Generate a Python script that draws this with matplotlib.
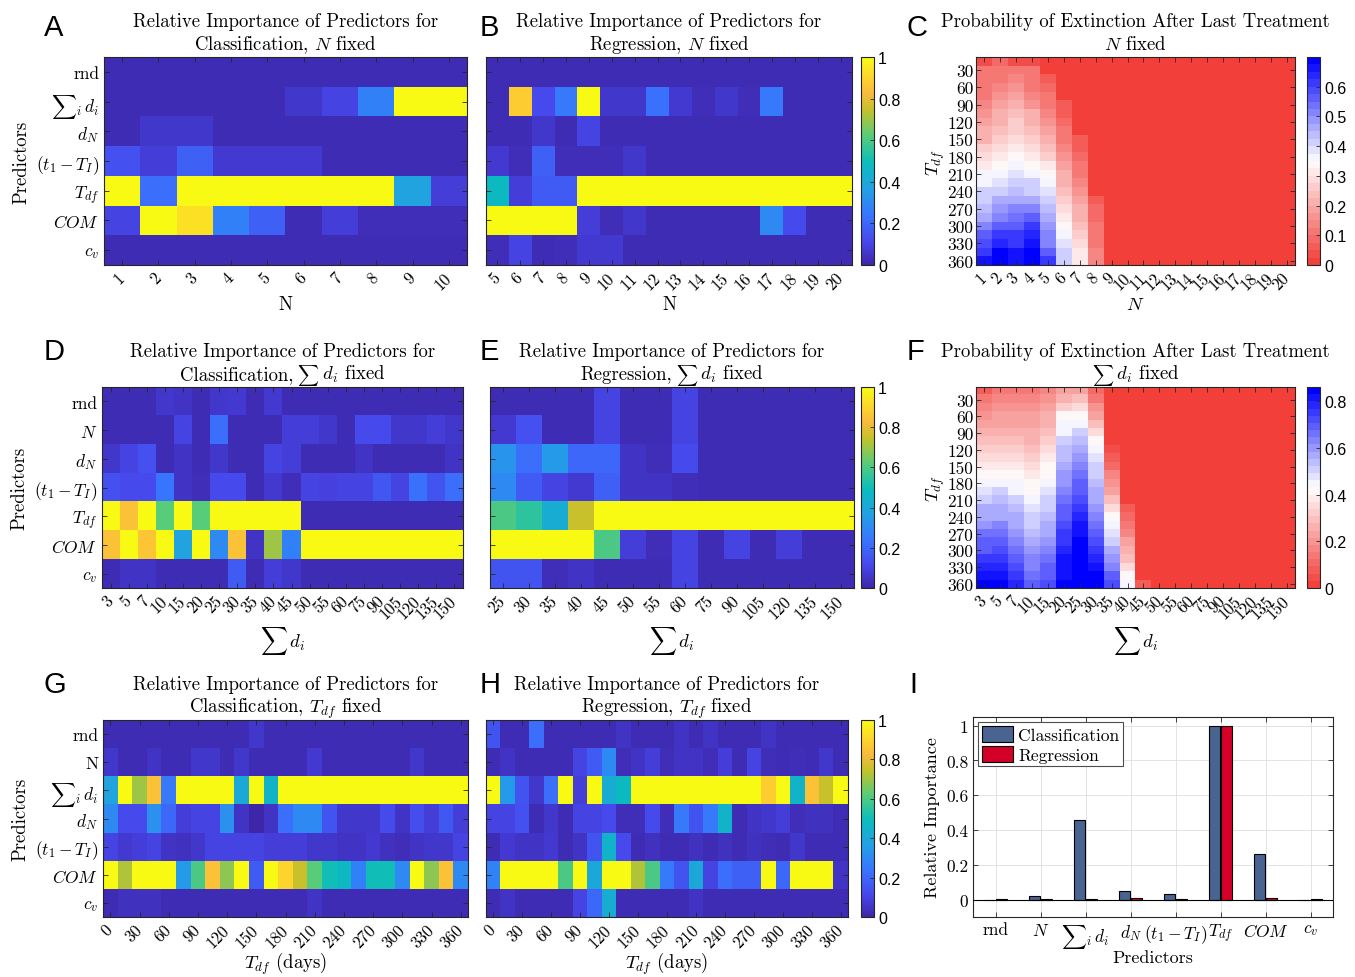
import numpy as np
import matplotlib
matplotlib.use('Agg')
import matplotlib.pyplot as plt
from matplotlib.colors import LinearSegmentedColormap

plt.rcParams['font.family'] = 'serif'
plt.rcParams['font.serif'] = ['cmr10']
plt.rcParams['mathtext.fontset'] = 'cm'
plt.rcParams['axes.formatter.use_mathtext'] = True
plt.rcParams['axes.unicode_minus'] = False

#### Achsenbeschriftungen / Kategorien
pred_N = ['rnd', r'${\sum}_i\, d_i$', r'$d_N$', r'$(t_1-T_I)$', r'$T_{df}$', r'$COM$', r'$c_v$']
pred_sum = ['rnd', r'$N$', r'$d_N$', r'$(t_1-T_I)$', r'$T_{df}$', r'$COM$', r'$c_v$']
pred_T = ['rnd', 'N', r'${\sum}_i\, d_i$', r'$d_N$', r'$(t_1-T_I)$', r'$COM$', r'$c_v$']
pred_bar = ['rnd', r'$N$', r'${\sum}_i\, d_i$', r'$d_N$', r'$(t_1-T_I)$', r'$T_{df}$', r'$COM$', r'$c_v$']

N_class = [1, 2, 3, 4, 5, 6, 7, 8, 9, 10]
N_reg = [5, 6, 7, 8, 9, 10, 11, 12, 13, 14, 15, 16, 17, 18, 19, 20]
N_prob = [1, 2, 3, 4, 5, 6, 7, 8, 9, 10, 11, 12, 13, 14, 15, 16, 17, 18, 19, 20]
sum_class = [3, 5, 7, 10, 15, 20, 25, 30, 35, 40, 45, 50, 55, 60, 75, 90, 105, 120, 135, 150]
sum_reg = [25, 30, 35, 40, 45, 50, 55, 60, 75, 90, 105, 120, 135, 150]
T_days = [0, 15, 30, 45, 60, 75, 90, 105, 120, 135, 150, 165, 180, 195, 210, 225, 240,
          255, 270, 285, 300, 315, 330, 345, 360]
T_prob = [15, 30, 45, 60, 75, 90, 105, 120, 135, 150, 165, 180, 195, 210, 225, 240,
          255, 270, 285, 300, 315, 330, 345, 360]

#### A: Klassifikation, N fest
imp_class_N = [
    [.02, .02, .02, .02, .02, .02, .02, .02, .02, .02],
    [.02, .02, .02, .02, .02, .06, .10, .27, 1, 1],
    [.02, .06, .06, .02, .02, .02, .02, .02, .02, .02],
    [.14, .08, .18, .07, .07, .07, .02, .02, .02, .02],
    [1, .22, 1, 1, 1, 1, 1, 1, .38, .08],
    [.10, 1, .93, .27, .18, .02, .08, .03, .03, .03],
    [.02, .02, .02, .02, .02, .02, .02, .02, .02, .02]]

#### B: Regression, N fest
imp_reg_N = [
    [.02, .02, .02, .02, .02, .02, .02, .02, .02, .02, .02, .02, .02, .02, .02, .02],
    [.02, .88, .12, .25, 1, .06, .06, .23, .07, .03, .06, .03, .25, .02, .02, .02],
    [.02, .02, .06, .02, .10, .02, .02, .02, .02, .02, .02, .02, .02, .02, .02, .02],
    [.07, .03, .18, .03, .03, .03, .06, .02, .02, .02, .02, .02, .02, .02, .02, .02],
    [.48, .08, .17, .17, 1, 1, 1, 1, 1, 1, 1, 1, 1, 1, 1, 1],
    [1, 1, 1, 1, .08, .03, .06, .02, .02, .02, .02, .02, .30, .12, .02, .02],
    [.03, .10, .02, .03, .07, .07, .02, .02, .02, .02, .02, .02, .02, .02, .02, .02]]

#### C: Aussterbewahrscheinlichkeit, N fest (Zeilen T_df = 15..360)
p_ext_N = [
    [.03, .08, .04, .04, .02, .01, 0, 0, 0, 0, 0, 0, 0, 0, 0, 0, 0, 0, 0, 0],
    [.10, .10, .10, .10, .02, .01, 0, 0, 0, 0, 0, 0, 0, 0, 0, 0, 0, 0, 0, 0],
    [.10, .10, .14, .10, .06, .01, 0, 0, 0, 0, 0, 0, 0, 0, 0, 0, 0, 0, 0, 0],
    [.12, .13, .17, .12, .08, .01, 0, 0, 0, 0, 0, 0, 0, 0, 0, 0, 0, 0, 0, 0],
    [.12, .17, .19, .14, .10, .01, 0, 0, 0, 0, 0, 0, 0, 0, 0, 0, 0, 0, 0, 0],
    [.13, .19, .21, .17, .12, .06, 0, 0, 0, 0, 0, 0, 0, 0, 0, 0, 0, 0, 0, 0],
    [.15, .20, .23, .20, .14, .07, 0, 0, 0, 0, 0, 0, 0, 0, 0, 0, 0, 0, 0, 0],
    [.18, .22, .25, .22, .17, .08, 0, 0, 0, 0, 0, 0, 0, 0, 0, 0, 0, 0, 0, 0],
    [.20, .24, .27, .24, .19, .10, 0, 0, 0, 0, 0, 0, 0, 0, 0, 0, 0, 0, 0, 0],
    [.22, .26, .29, .26, .22, .12, .06, 0, 0, 0, 0, 0, 0, 0, 0, 0, 0, 0, 0, 0],
    [.25, .28, .31, .28, .24, .14, .07, 0, 0, 0, 0, 0, 0, 0, 0, 0, 0, 0, 0, 0],
    [.28, .31, .33, .31, .27, .16, .08, 0, 0, 0, 0, 0, 0, 0, 0, 0, 0, 0, 0, 0],
    [.32, .34, .36, .34, .30, .18, .10, 0, 0, 0, 0, 0, 0, 0, 0, 0, 0, 0, 0, 0],
    [.35, .36, .39, .37, .33, .20, .12, 0, 0, 0, 0, 0, 0, 0, 0, 0, 0, 0, 0, 0],
    [.37, .39, .41, .40, .36, .22, .14, 0, 0, 0, 0, 0, 0, 0, 0, 0, 0, 0, 0, 0],
    [.40, .42, .44, .42, .38, .24, .16, 0, 0, 0, 0, 0, 0, 0, 0, 0, 0, 0, 0, 0],
    [.42, .45, .47, .45, .40, .26, .18, .07, 0, 0, 0, 0, 0, 0, 0, 0, 0, 0, 0, 0],
    [.44, .48, .50, .50, .43, .28, .20, .08, 0, 0, 0, 0, 0, 0, 0, 0, 0, 0, 0, 0],
    [.47, .52, .54, .55, .45, .31, .22, .08, 0, 0, 0, 0, 0, 0, 0, 0, 0, 0, 0, 0],
    [.50, .56, .57, .60, .48, .33, .24, .10, 0, 0, 0, 0, 0, 0, 0, 0, 0, 0, 0, 0],
    [.55, .60, .60, .63, .50, .36, .26, .10, 0, 0, 0, 0, 0, 0, 0, 0, 0, 0, 0, 0],
    [.58, .63, .62, .66, .52, .38, .28, .12, 0, 0, 0, 0, 0, 0, 0, 0, 0, 0, 0, 0],
    [.62, .68, .65, .68, .56, .40, .30, .13, 0, 0, 0, 0, 0, 0, 0, 0, 0, 0, 0, 0],
    [.65, .70, .67, .70, .60, .42, .32, .14, 0, 0, 0, 0, 0, 0, 0, 0, 0, 0, 0, 0]]

#### D: Klassifikation, sum d_i fest
imp_class_sum = [
    [.02, .02, .02, .06, .05, .02, .06, .07, .02, .07, .02, .02, .02, .02, .02, .02, .02, .02, .02, .02],
    [.02, .02, .02, .02, .10, .02, .22, .02, .02, .02, .08, .08, .06, .02, .12, .12, .06, .06, .08, .06],
    [.06, .10, .14, .02, .05, .02, .06, .02, .02, .10, .08, .02, .02, .02, .05, .02, .02, .02, .02, .05],
    [.14, .12, .12, .24, .05, .03, .12, .12, .02, .07, .03, .10, .09, .10, .10, .16, .10, .23, .15, .22],
    [1, .85, 1, .62, 1, .62, 1, 1, 1, 1, 1, .02, .02, .02, .02, .02, .02, .02, .02, .02],
    [.85, 1, .86, 1, .38, 1, .30, .85, .05, .70, .27, 1, 1, 1, 1, 1, 1, 1, 1, 1],
    [.02, .05, .05, .02, .02, .02, .02, .17, .02, .08, .06, .02, .02, .02, .02, .02, .02, .02, .02, .02]]

#### E: Regression, sum d_i fest
imp_reg_sum = [
    [.02, .02, .02, .02, .10, .02, .02, .10, .02, .02, .02, .02, .02, .02],
    [.07, .14, .02, .02, .10, .02, .02, .10, .02, .02, .02, .02, .02, .02],
    [.33, .22, .35, .20, .20, .05, .03, .12, .02, .02, .02, .02, .02, .02],
    [.30, .17, .10, .07, .18, .05, .05, .03, .02, .02, .02, .02, .02, .02],
    [.60, .55, .42, .75, 1, 1, 1, 1, 1, 1, 1, 1, 1, 1],
    [1, 1, 1, 1, .60, .08, .03, .10, .02, .10, .02, .08, .02, .02],
    [.15, .15, .03, .05, .02, .02, .02, .10, .02, .02, .02, .02, .02, .02]]

#### F: Aussterbewahrscheinlichkeit, sum d_i fest
p_ext_sum = [
    [.08, .15, .15, .15, .18, .22, .22, .10, 0, 0, 0, 0, 0, 0, 0, 0, 0, 0, 0, 0],
    [.14, .18, .18, .17, .20, .26, .28, .14, 0, 0, 0, 0, 0, 0, 0, 0, 0, 0, 0, 0],
    [.18, .20, .20, .20, .22, .32, .35, .20, 0, 0, 0, 0, 0, 0, 0, 0, 0, 0, 0, 0],
    [.20, .22, .22, .22, .25, .40, .42, .24, 0, 0, 0, 0, 0, 0, 0, 0, 0, 0, 0, 0],
    [.22, .24, .24, .23, .27, .43, .46, .28, 0, 0, 0, 0, 0, 0, 0, 0, 0, 0, 0, 0],
    [.25, .26, .27, .25, .30, .46, .50, .34, 0, 0, 0, 0, 0, 0, 0, 0, 0, 0, 0, 0],
    [.28, .30, .30, .27, .32, .50, .53, .40, 0, 0, 0, 0, 0, 0, 0, 0, 0, 0, 0, 0],
    [.32, .33, .32, .30, .35, .53, .56, .44, .06, 0, 0, 0, 0, 0, 0, 0, 0, 0, 0, 0],
    [.35, .36, .35, .32, .38, .55, .60, .47, .08, 0, 0, 0, 0, 0, 0, 0, 0, 0, 0, 0],
    [.38, .39, .38, .35, .40, .57, .63, .50, .12, 0, 0, 0, 0, 0, 0, 0, 0, 0, 0, 0],
    [.41, .42, .40, .37, .42, .59, .66, .52, .16, 0, 0, 0, 0, 0, 0, 0, 0, 0, 0, 0],
    [.44, .45, .43, .40, .45, .60, .68, .54, .20, 0, 0, 0, 0, 0, 0, 0, 0, 0, 0, 0],
    [.48, .50, .46, .42, .48, .63, .70, .56, .24, 0, 0, 0, 0, 0, 0, 0, 0, 0, 0, 0],
    [.52, .53, .50, .45, .50, .65, .73, .58, .28, 0, 0, 0, 0, 0, 0, 0, 0, 0, 0, 0],
    [.56, .56, .53, .47, .52, .68, .76, .60, .34, .07, 0, 0, 0, 0, 0, 0, 0, 0, 0, 0],
    [.58, .58, .56, .50, .54, .70, .78, .64, .40, .10, 0, 0, 0, 0, 0, 0, 0, 0, 0, 0],
    [.60, .62, .58, .52, .56, .72, .80, .66, .44, .14, 0, 0, 0, 0, 0, 0, 0, 0, 0, 0],
    [.65, .65, .60, .55, .58, .74, .82, .70, .48, .18, 0, 0, 0, 0, 0, 0, 0, 0, 0, 0],
    [.68, .68, .63, .57, .60, .76, .84, .72, .52, .22, 0, 0, 0, 0, 0, 0, 0, 0, 0, 0],
    [.70, .72, .67, .60, .63, .78, .85, .76, .56, .26, 0, 0, 0, 0, 0, 0, 0, 0, 0, 0],
    [.74, .75, .70, .62, .66, .80, .86, .78, .60, .30, 0, 0, 0, 0, 0, 0, 0, 0, 0, 0],
    [.78, .77, .72, .64, .68, .80, .86, .80, .64, .35, 0, 0, 0, 0, 0, 0, 0, 0, 0, 0],
    [.82, .80, .75, .66, .70, .82, .86, .84, .68, .40, 0, 0, 0, 0, 0, 0, 0, 0, 0, 0],
    [.86, .83, .78, .70, .72, .84, .86, .86, .72, .46, .08, 0, 0, 0, 0, 0, 0, 0, 0, 0]]

#### G: Klassifikation, T_df fest
imp_class_T = [
    [.02, .02, .02, .02, .02, .02, .02, .02, .02, .02, .06, .02, .02, .02, .02, .02, .02, .02, .02, .02, .02, .02, .02, .02, .02],
    [.06, .02, .02, .05, .02, .02, .06, .06, .02, .06, .02, .02, .02, .02, .07, .02, .02, .02, .02, .02, .02, .06, .02, .02, .02],
    [.38, 1, .70, .85, .25, 1, 1, 1, 1, .40, 1, .45, 1, 1, 1, 1, 1, 1, 1, 1, 1, 1, 1, 1, 1],
    [.30, .12, .12, .32, .20, .08, .10, .10, .32, .05, 0, .05, .22, .30, .30, .15, .06, .06, .06, .12, .05, .13, .08, .16, .08],
    [.10, .07, .08, .10, .05, .04, .06, .10, .10, .10, .10, .08, .08, .08, .06, .06, .05, .05, .07, .04, .03, .05, .06, .06, .10],
    [1, .72, 1, 1, 1, .35, .60, .85, .68, 1, .17, 1, .90, .75, .62, .50, .48, .27, .50, .50, .30, 1, .68, .85, .30],
    [.02, .04, .04, .04, .02, .02, .02, .02, .02, .02, .02, .02, .02, .02, .05, .02, .02, .02, .02, .02, .02, .02, .02, .02, .02]]

#### H: Regression, T_df fest
imp_reg_T = [
    [.15, .02, .02, .22, .02, .02, .02, .02, .02, .05, .02, .02, .02, .05, .02, .05, .02, .02, .02, .05, .02, .02, .02, .02, .02],
    [.02, .05, .02, .02, .02, .02, .10, .17, .30, .03, .05, .08, .03, .05, .05, .03, .08, .02, .10, .03, .02, .03, .02, .06, .02],
    [1, .35, .15, .06, .22, 1, .08, 1, .42, .48, 1, 1, 1, 1, 1, 1, 1, 1, 1, .88, 1, .45, .85, .75, 1],
    [.10, .10, .14, .02, .06, .02, .10, .10, .12, .03, .03, .12, .03, .25, .15, .25, .45, .02, .05, .06, .08, .03, .04, .04, .02],
    [.02, .07, .05, .05, .07, .02, .05, .15, .45, .12, .02, .04, .02, .02, .04, .02, .04, .02, .04, .03, .02, .06, .02, .02, .02],
    [.28, 1, 1, 1, 1, .60, 1, .40, 1, 1, .72, .60, .25, .15, .40, .10, .22, .18, .18, 1, .20, 1, 1, 1, .05],
    [.02, .05, .02, .02, .02, .02, .10, .20, .42, .02, .02, .02, .02, .02, .05, .02, .02, .02, .02, .02, .02, .02, .02, .02, .02]]

#### I: Gesamtwichtigkeit
imp_class_all = [0.0, 0.02, 0.46, 0.05, 0.03, 1.0, 0.26, 0.0]
imp_reg_all = [0.002, 0.003, 0.003, 0.01, 0.003, 1.0, 0.01, 0.002]

#### Farbskalen
parula = LinearSegmentedColormap.from_list('parula', [
    (0.0, (0.2422, 0.1504, 0.6603)),
    (7/63, (0.2803, 0.2782, 0.9221)),
    (15/63, (0.2206, 0.4603, 0.9973)),
    (23/63, (0.1380, 0.6276, 0.8973)),
    (31/63, (0.0433, 0.7411, 0.7394)),
    (39/63, (0.3406, 0.8008, 0.4789)),
    (47/63, (0.7738, 0.7598, 0.1646)),
    (52/63, (0.9728, 0.7298, 0.2394)),
    (55/63, (0.9952, 0.7893, 0.2028)),
    (1.0, (0.9769, 0.9839, 0.0805))])
redblue = LinearSegmentedColormap.from_list('rb', [(0.95, 0.25, 0.23), (1, 1, 1), (0, 0, 1)], N=28)

W, H = 1355, 978
fig = plt.figure(figsize=(W/100, H/100), dpi=100)
renderer = fig.canvas.get_renderer()

def box(l, t, r, b):
    return fig.add_axes([l/W, 1 - b/H, (r - l)/W, (b - t)/H])

def style(ax):
    ax.tick_params(direction='in', top=True, right=True, length=3.5, width=0.6,
                   colors='0.15', labelcolor='k')
    for s in ax.spines.values():
        s.set_color('0.15')
        s.set_linewidth(0.8)

def text_line(ax, segs, dy):
    # Zeile aus Stuecken mit eigener Schriftgroesse, zentriert ueber der Achse
    texts = [fig.text(0, 0, s, fontsize=fs, va='baseline', ha='left') for s, fs in segs]
    widths = [t.get_window_extent(renderer).width for t in texts]
    bb = ax.get_position()
    x0 = (bb.x0 + bb.x1) / 2 * W - sum(widths) / 2
    yb = bb.y1 * H + dy
    for t, w in zip(texts, widths):
        t.set_position((x0 / W, yb / H))
        x0 += w

def title2(ax, line1, line2):
    text_line(ax, [(line1, 13.5)], 31)
    if isinstance(line2, str):
        line2 = [(line2, 13.5)]
    text_line(ax, line2, 8)

def heat(ax, data, xl, yl, line2, xlabel, ylabel=None, days=False):
    data = np.array(data)
    if days:
        im = ax.imshow(data, cmap=parula, vmin=0, vmax=1, aspect='auto', interpolation='nearest',
                       extent=[-7.5, 367.5, data.shape[0] - 0.5, -0.5])
        ax.set_xticks(xl[::2])
        ax.set_xticklabels([str(v) for v in xl[::2]], rotation=45, ha='right',
                           va='center', rotation_mode='anchor', fontsize=12)
    else:
        im = ax.imshow(data, cmap=parula, vmin=0, vmax=1, aspect='auto', interpolation='nearest')
        ax.set_xticks(range(len(xl)))
        ax.set_xticklabels([str(v) for v in xl], rotation=45, ha='right',
                           va='center', rotation_mode='anchor', fontsize=12)
    ax.set_yticks(range(data.shape[0]))
    if yl is None:
        ax.set_yticklabels([])
    else:
        ax.set_yticklabels(yl, fontsize=12.5)
    style(ax)
    ax.tick_params(axis='x', pad=7)
    title2(ax, 'Relative Importance of Predictors for', line2)
    ax.set_xlabel(xlabel, fontsize=13.5, labelpad=0 if days else 2)
    if ylabel:
        ax.set_ylabel(ylabel, fontsize=13.5)
    return im

def prob(ax, data, xl, line2, xlabel, vmax):
    data = np.array(data)
    im = ax.imshow(data, cmap=redblue, vmin=0, vmax=vmax, aspect='auto', interpolation='nearest',
                   extent=[0.5, len(xl) + 0.5, 367.5, 7.5])
    ax.set_xticks(range(1, len(xl) + 1))
    ax.set_xticklabels([str(v) for v in xl], rotation=45, ha='right',
                       va='center', rotation_mode='anchor', fontsize=12)
    ax.set_yticks(T_prob[1::2])
    ax.set_yticklabels([str(v) for v in T_prob[1::2]], fontsize=12.5)
    style(ax)
    ax.tick_params(axis='x', pad=7)
    ax.tick_params(axis='y', pad=2)
    title2(ax, 'Probability of Extinction After Last Treatment', line2)
    ax.set_xlabel(xlabel, fontsize=13.5, labelpad=2)
    ax.set_ylabel(r'$T_{df}$', fontsize=13.5, labelpad=0)
    return im

def cbar(im, l, t, r, b, ticks, labels):
    cax = box(l, t, r, b)
    cb = fig.colorbar(im, cax=cax, ticks=ticks)
    cb.ax.set_yticklabels(labels, family='Liberation Sans', fontsize=11.5)
    cb.ax.tick_params(direction='in', length=3, width=0.6, colors='0.15', labelcolor='k', pad=3)
    cb.outline.set_edgecolor('0.15')
    cb.outline.set_linewidth(0.8)

pt = ['0', '0.2', '0.4', '0.6', '0.8', '1']
pv = [0, 0.2, 0.4, 0.6, 0.8, 1]
sum_lab = r'$\sum\, d_i$'

# Zeile 1
axA = box(104, 58, 467, 266)
heat(axA, imp_class_N, N_class, pred_N, 'Classification, $N$ fixed', 'N', 'Predictors')
axB = box(486, 58, 852, 266)
imB = heat(axB, imp_reg_N, N_reg, None, 'Regression, $N$ fixed', 'N')
cbar(imB, 861, 58, 874, 266, pv, pt)
axC = box(976, 58, 1295, 266)
imC = prob(axC, p_ext_N, N_prob, '$N$ fixed', r'$N$', 0.70)
cbar(imC, 1307, 58, 1320, 266, [0, .1, .2, .3, .4, .5, .6],
     ['0', '0.1', '0.2', '0.3', '0.4', '0.5', '0.6'])

# Zeile 2
axD = box(102, 388, 463, 589)
heat(axD, imp_class_sum, sum_class, pred_sum,
     [('Classification,', 13.5), (r'$\ \sum$', 10.5), (r'$\,d_i$ fixed', 13.5)],
     sum_lab, 'Predictors')
axE = box(490, 388, 854, 589)
imE = heat(axE, imp_reg_sum, sum_reg, None,
           [('Regression,', 13.5), (r'$\ \sum$', 10.5), (r'$\,d_i$ fixed', 13.5)], sum_lab)
cbar(imE, 861, 388, 874, 589, pv, pt)
axF = box(976, 388, 1295, 589)
imF = prob(axF, p_ext_sum, sum_class, [(r'$\sum$', 10.5), (r'$\,d_i$ fixed', 13.5)], sum_lab, 0.86)
cbar(imF, 1307, 388, 1320, 589, [0, .2, .4, .6, .8], ['0', '0.2', '0.4', '0.6', '0.8'])

# Zeile 3
axG = box(103, 721, 468, 918)
heat(axG, imp_class_T, T_days, pred_T, 'Classification, $T_{df}$ fixed', r'$T_{df}$ (days)',
     'Predictors', days=True)
axH = box(486, 721, 848, 918)
imH = heat(axH, imp_reg_T, T_days, None, 'Regression, $T_{df}$ fixed', r'$T_{df}$ (days)',
           days=True)
cbar(imH, 861, 721, 874, 918, pv, pt)

# Balkendiagramm
axI = box(973, 718, 1333, 918)
x = np.arange(len(pred_bar))
axI.bar(x - 0.135, imp_class_all, 0.25, color='#4a6491', edgecolor='k', linewidth=0.8,
        label='Classification', zorder=3)
axI.bar(x + 0.135, imp_reg_all, 0.25, color='#d50028', edgecolor='k', linewidth=0.8,
        label='Regression', zorder=3)
axI.axhline(0, color='k', linewidth=0.8, zorder=4)
axI.set_xlim(-0.5, 7.5)
axI.set_ylim(-0.1, 1.05)
axI.set_xticks(x)
axI.set_xticklabels(pred_bar, fontsize=12.5)
axI.set_yticks(pv)
axI.set_yticklabels(pt, fontsize=12.5)
axI.grid(True, color='0.87', linewidth=0.6, zorder=0)
style(axI)
axI.set_ylabel('Relative Importance', fontsize=13)
axI.set_xlabel('Predictors', fontsize=13, labelpad=0)
leg = axI.legend(loc='upper left', fontsize=12.5, fancybox=False, framealpha=1,
                 edgecolor='0.3', handlelength=1.8, handleheight=1.1, borderpad=0.2,
                 labelspacing=0.15, handletextpad=0.3, borderaxespad=0.3)
leg.get_frame().set_linewidth(0.8)

# Panel-Buchstaben
for letter, px, py in [('A', 44, 14), ('B', 480, 14), ('C', 907, 14),
                       ('D', 44, 338), ('E', 480, 338), ('F', 907, 338),
                       ('G', 44, 671), ('H', 480, 671), ('I', 909, 671)]:
    fig.text(px/W, 1 - py/H, letter, family='Liberation Sans', fontsize=21, va='top', ha='left')

fig.savefig('out.png', dpi=100)
